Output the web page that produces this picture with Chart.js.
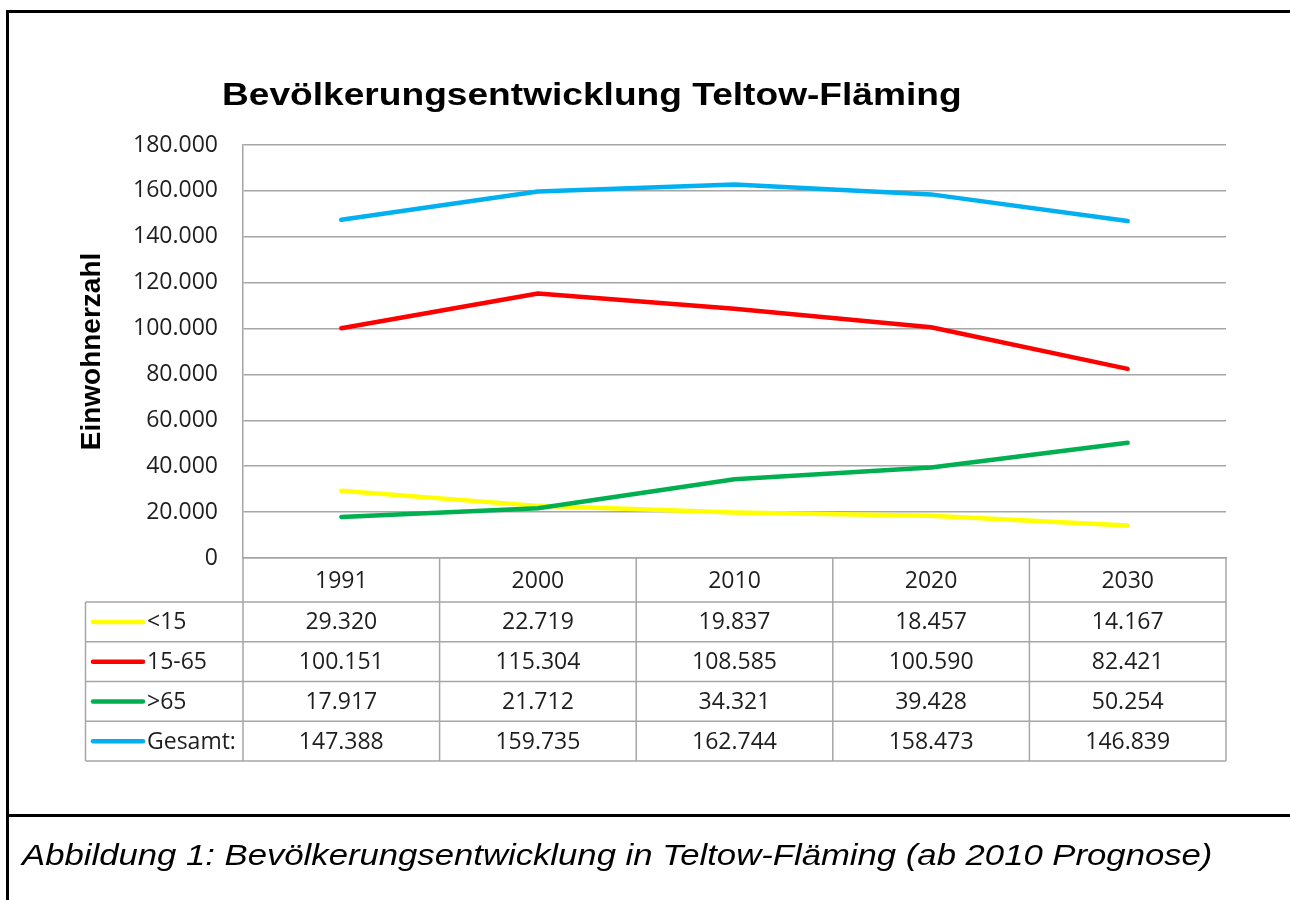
<!DOCTYPE html>
<html>
<head>
<meta charset="utf-8">
<script src="https://cdn.jsdelivr.net/npm/chart.js@4.4.1/dist/chart.umd.min.js"></script>
<style>
  html, body { margin:0; padding:0; background:#fff; width:1290px; height:900px; overflow:hidden; }
  #wrap { position:relative; width:1290px; height:900px; }
  #chart { position:absolute; left:0; top:0; }
  .bar { position:absolute; background:#000; }
  #title { position:absolute; left:222px; top:78px; font:bold 32px "Liberation Sans", Arial, sans-serif; line-height:32px; white-space:nowrap; transform-origin:0 0; color:#000; }
  #caption { position:absolute; left:22px; top:840px; font:italic 30px "Liberation Sans", Arial, sans-serif; line-height:30px; white-space:nowrap; transform-origin:0 0; color:#000; }
</style>
</head>
<body>
<div id="wrap">
  <canvas id="chart" width="1290" height="900"></canvas>
  <div class="bar" style="left:6px;top:10px;width:1284px;height:3px;"></div>
  <div class="bar" style="left:6px;top:10px;width:3px;height:890px;"></div>
  <div class="bar" style="left:6px;top:814px;width:1284px;height:3px;"></div>
  <div id="title">Bevölkerungsentwicklung Teltow-Fläming</div>
  <div id="caption">Abbildung 1: Bevölkerungsentwicklung in Teltow-Fläming (ab 2010 Prognose)</div>
</div>
<script>
// ---- data ----
const years = ['1991', '2000', '2010', '2020', '2030'];
const seriesNames = ['<15', '15-65', '>65', 'Gesamt:'];
const under15 = [29320, 22719, 19837, 18457, 14167];
const age15to65 = [100151, 115304, 108585, 100590, 82421];
const over65 = [17917, 21712, 34321, 39428, 50254];
const total = [147388, 159735, 162744, 158473, 146839];
const seriesColors = ['#FFFF00', '#FF0000', '#00B050', '#00B0F0'];
const yMin = 0, yMax = 180000, yStep = 20000;

const seriesValues = [under15, age15to65, over65, total];
const gridColor = '#a6a6a6';
const textColor = '#1e1e1e';
const fontFamily = '"Open Sans", "Noto Sans", sans-serif';
const fontSize = 23;
const tableFont = fontSize + 'px ' + fontFamily;

function fmt(v) {
  return String(v).replace(/\B(?=(\d{3})+(?!\d))/g, '.');
}

const tablePlugin = {
  id: 'dataTable',
  afterDraw(chart) {
    const { ctx, chartArea: a, scales: { x } } = chart;
    const n = years.length;
    const colW = (a.right - a.left) / n;
    const headerBottom = a.bottom + 44;
    const rowH = 39.75;
    const tableBottom = headerBottom + seriesValues.length * rowH;
    const legendLeft = 85.5;
    const line = (x1, y1, x2, y2) => { ctx.beginPath(); ctx.moveTo(x1, y1); ctx.lineTo(x2, y2); ctx.stroke(); };
    ctx.save();
    ctx.strokeStyle = gridColor;
    ctx.lineWidth = 1.5;
    for (let r = 0; r <= seriesValues.length; r++) {
      const y = headerBottom + r * rowH;
      line(legendLeft, y, a.right, y);
    }
    for (let i = 0; i <= n; i++) {
      const xx = a.left + i * colW;
      line(xx, a.bottom, xx, tableBottom);
    }
    line(legendLeft, headerBottom, legendLeft, tableBottom);

    ctx.font = tableFont;
    ctx.fillStyle = textColor;
    ctx.textBaseline = 'middle';
    seriesValues.forEach((vals, r) => {
      const cy = headerBottom + r * rowH + rowH / 2 + 1;
      ctx.textAlign = 'center';
      vals.forEach((v, i) => {
        ctx.fillText(fmt(v), x.getPixelForValue(i), cy);
      });
      // legend sample
      ctx.save();
      ctx.strokeStyle = seriesColors[r];
      ctx.lineWidth = 4.5;
      ctx.lineCap = 'round';
      line(93, cy - 1, 143, cy - 1);
      ctx.restore();
      ctx.textAlign = 'left';
      ctx.fillText(seriesNames[r], 147, cy);
    });
    ctx.restore();
  }
};

const datasets = seriesValues.map((vals, i) => ({
  label: seriesNames[i],
  data: vals,
  borderColor: seriesColors[i],
  backgroundColor: seriesColors[i],
  borderWidth: 4.5,
  pointRadius: 0,
  tension: 0,
  fill: false,
  borderCapStyle: 'round',
  borderJoinStyle: 'round',
  order: seriesValues.length - i
}));

new Chart(document.getElementById('chart'), {
  type: 'line',
  data: { labels: years, datasets },
  options: {
    responsive: false,
    animation: false,
    devicePixelRatio: 1,
    layout: { padding: { left: 0, right: 64, top: 145, bottom: 298 } },
    plugins: { legend: { display: false }, tooltip: { enabled: false }, title: { display: false } },
    scales: {
      x: {
        offset: true,
        grid: { display: false, drawTicks: false },
        border: { display: true, color: gridColor, width: 1.5 },
        ticks: { font: { family: fontFamily, size: fontSize, lineHeight: 1.2 }, color: textColor, padding: 10, maxRotation: 0, autoSkip: false },
        afterFit: (s) => { s.height = 44; }
      },
      y: {
        min: yMin, max: yMax,
        ticks: { stepSize: yStep, callback: (v) => fmt(v), font: { family: fontFamily, size: fontSize, lineHeight: 1.2 }, color: textColor, padding: 25 },
        grid: { color: gridColor, lineWidth: 1.5, drawTicks: false },
        border: { display: true, color: gridColor, width: 1.5 },
        title: { display: true, text: 'Einwohnerzahl', color: '#000', font: { family: '"Liberation Sans", Arial, sans-serif', size: 28, weight: 'bold', lineHeight: 1.2 }, padding: { top: 75, bottom: 0 } },
        afterFit: (s) => { s.width = 243; }
      }
    }
  },
  plugins: [tablePlugin]
});

function fitWidth(id, target) {
  const el = document.getElementById(id);
  const w = el.offsetWidth;
  if (w > 0) el.style.transform = 'scaleX(' + (target / w) + ')';
}
fitWidth('title', 740);
fitWidth('caption', 1191);
</script>
</body>
</html>
